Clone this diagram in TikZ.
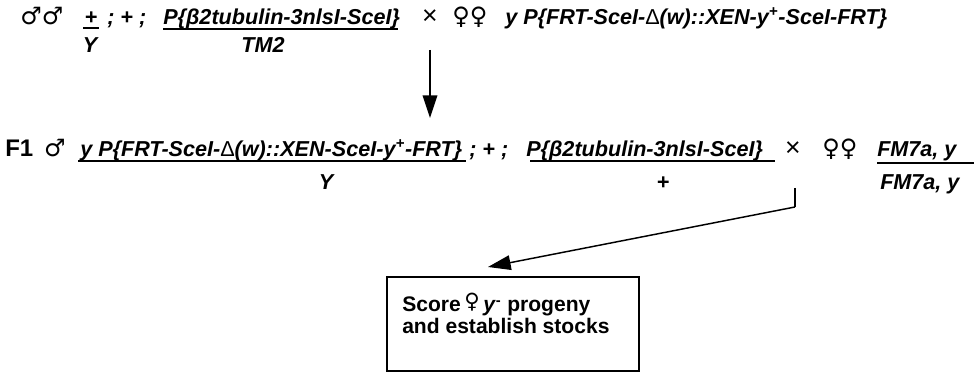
\documentclass[tikz,border=0pt]{standalone}
\usepackage{fontspec}
\setmainfont{Liberation Sans}
\newfontfamily\symfont{DejaVu Sans}
\usetikzlibrary{arrows.meta}
\begin{document}
\begin{tikzpicture}[x=0.75pt,y=-0.75pt,
  gt/.style={font=\fontsize{16.2}{18}\selectfont\bfseries\itshape, inner sep=0pt, anchor=base west},
  gc/.style={gt, anchor=base},
  sym/.style={font=\fontsize{18}{20}\selectfont\symfont, inner sep=0pt, anchor=base},
  cross/.style={font=\fontsize{20}{22}\selectfont, inner sep=0pt, anchor=base},
  bt/.style={font=\fontsize{15.8}{18}\selectfont\bfseries, inner sep=0pt, anchor=base west},
  rule/.style={line width=1pt},
  arr/.style={line width=1.1pt, -{Triangle[length=17pt,width=11pt]}},
  conn/.style={line width=1.1pt}
]
\useasboundingbox (0,0) rectangle (976,373);
% ---- top row
\node[sym] (m1) at (42,25) {♂♂};
\node[gc] (n1) at (91,25) {+};
\draw[rule] (83,28) -- (99,28);
\node[gc] (d1) at (90,53) {Y};
\node[gt] (s1) at (107,25) {; + ;};
\node[gt] (n2) at (163,25) {P\{β2tubulin-3nlsI-SceI\}};
\draw[rule] (163,29) -- (398,29);
\node[gc] (d2) at (263,53) {TM2};
\node[cross] (x1) at (430,25) {×};
\node[sym] (f1) at (470,25) {♀♀};
\node[gt] (g1) at (505,25) {y P\{FRT-SceI-{\mdseries\upshape Δ}(w)::XEN-y\textsuperscript{+}-SceI-FRT\}};
% ---- arrow down
\coordinate (a1) at (430,50);
\coordinate (a2) at (430,118);
\draw[arr] (a1) -- (a2);
% ---- F1 row
\node[font=\fontsize{18}{20}\selectfont\bfseries, inner sep=0pt, anchor=base west] (F) at (5,157) {F1};
\node[sym] (m2) at (55,157) {♂};
\node[gt] (n3) at (80,157) {y P\{FRT-SceI-{\mdseries\upshape Δ}(w)::XEN-SceI-y\textsuperscript{+}-FRT\}};
\draw[rule] (78,161) -- (466,161);
\node[gc] (d3) at (326,190) {Y};
\node[gt] (s2) at (469,157) {; + ;};
\node[gt] (n4) at (526,157) {P\{β2tubulin-3nlsI-SceI\}};
\draw[rule] (530,161) -- (775,161);
\node[gc] (d4) at (663,190) {+};
\node[cross] (x2) at (793,157) {×};
\node[sym] (f2) at (840,157) {♀♀};
\node[gt] (n5) at (877,157) {FM7a, y};
\draw[rule] (877,163) -- (974,163);
\node[gt] (d5) at (880,190) {FM7a, y};
% ---- arrow to box
\coordinate (c1) at (795,188);
\coordinate (c2) at (795,207);
\coordinate (tip) at (488,267);
\draw[conn] (c1) -- (c2);
\draw[arr] (c2) -- (tip);
% ---- box
\node[draw, line width=1.1pt, minimum width=189pt, minimum height=70.5pt, inner sep=0pt] (box) at (513,324) {};
\node[bt] (t1) at (402,312) {Score\,\raisebox{2.5pt}{\symfont ♀}\,\textit{y}\textsuperscript{-} progeny};
\node[bt] (t2) at (402,334) {and establish stocks};
\end{tikzpicture}
\end{document}
